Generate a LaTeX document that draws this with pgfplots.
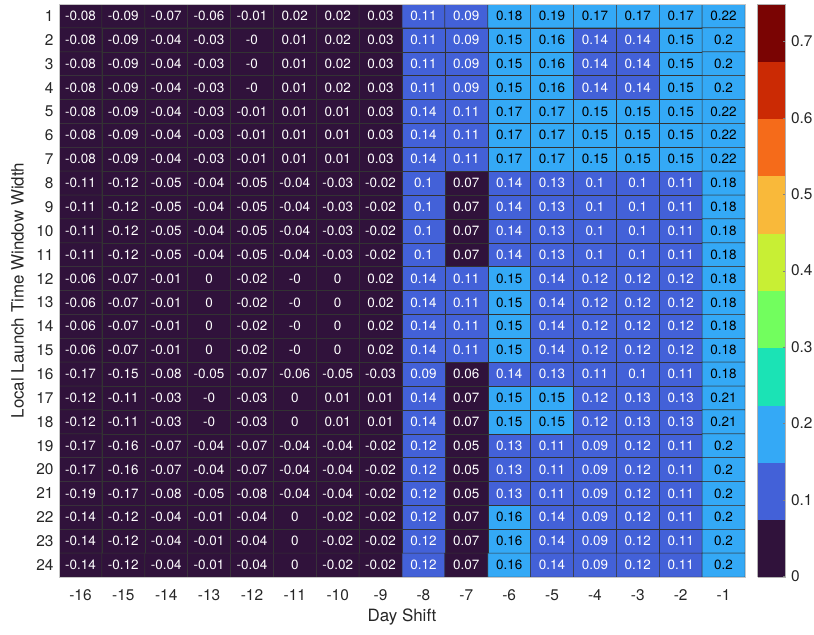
\documentclass[border=0pt]{standalone}
\usepackage{pgfplots}
\pgfplotsset{compat=1.18}
\usepackage{pgfplotstable}
\usepackage{fontspec}
\setmainfont{TeX Gyre Heros}

\pgfplotstableread[row sep=\\]{
x y v\\
-16 1 -0.08\\ -15 1 -0.09\\ -14 1 -0.07\\ -13 1 -0.06\\ -12 1 -0.01\\ -11 1 0.02\\ -10 1 0.02\\ -9 1 0.03\\ -8 1 0.11\\ -7 1 0.09\\ -6 1 0.18\\ -5 1 0.19\\ -4 1 0.17\\ -3 1 0.17\\ -2 1 0.17\\ -1 1 0.22\\
-16 2 -0.08\\ -15 2 -0.09\\ -14 2 -0.04\\ -13 2 -0.03\\ -12 2 -0\\ -11 2 0.01\\ -10 2 0.02\\ -9 2 0.03\\ -8 2 0.11\\ -7 2 0.09\\ -6 2 0.15\\ -5 2 0.16\\ -4 2 0.14\\ -3 2 0.14\\ -2 2 0.15\\ -1 2 0.2\\
-16 3 -0.08\\ -15 3 -0.09\\ -14 3 -0.04\\ -13 3 -0.03\\ -12 3 -0\\ -11 3 0.01\\ -10 3 0.02\\ -9 3 0.03\\ -8 3 0.11\\ -7 3 0.09\\ -6 3 0.15\\ -5 3 0.16\\ -4 3 0.14\\ -3 3 0.14\\ -2 3 0.15\\ -1 3 0.2\\
-16 4 -0.08\\ -15 4 -0.09\\ -14 4 -0.04\\ -13 4 -0.03\\ -12 4 -0\\ -11 4 0.01\\ -10 4 0.02\\ -9 4 0.03\\ -8 4 0.11\\ -7 4 0.09\\ -6 4 0.15\\ -5 4 0.16\\ -4 4 0.14\\ -3 4 0.14\\ -2 4 0.15\\ -1 4 0.2\\
-16 5 -0.08\\ -15 5 -0.09\\ -14 5 -0.04\\ -13 5 -0.03\\ -12 5 -0.01\\ -11 5 0.01\\ -10 5 0.01\\ -9 5 0.03\\ -8 5 0.14\\ -7 5 0.11\\ -6 5 0.17\\ -5 5 0.17\\ -4 5 0.15\\ -3 5 0.15\\ -2 5 0.15\\ -1 5 0.22\\
-16 6 -0.08\\ -15 6 -0.09\\ -14 6 -0.04\\ -13 6 -0.03\\ -12 6 -0.01\\ -11 6 0.01\\ -10 6 0.01\\ -9 6 0.03\\ -8 6 0.14\\ -7 6 0.11\\ -6 6 0.17\\ -5 6 0.17\\ -4 6 0.15\\ -3 6 0.15\\ -2 6 0.15\\ -1 6 0.22\\
-16 7 -0.08\\ -15 7 -0.09\\ -14 7 -0.04\\ -13 7 -0.03\\ -12 7 -0.01\\ -11 7 0.01\\ -10 7 0.01\\ -9 7 0.03\\ -8 7 0.14\\ -7 7 0.11\\ -6 7 0.17\\ -5 7 0.17\\ -4 7 0.15\\ -3 7 0.15\\ -2 7 0.15\\ -1 7 0.22\\
-16 8 -0.11\\ -15 8 -0.12\\ -14 8 -0.05\\ -13 8 -0.04\\ -12 8 -0.05\\ -11 8 -0.04\\ -10 8 -0.03\\ -9 8 -0.02\\ -8 8 0.1\\ -7 8 0.07\\ -6 8 0.14\\ -5 8 0.13\\ -4 8 0.1\\ -3 8 0.1\\ -2 8 0.11\\ -1 8 0.18\\
-16 9 -0.11\\ -15 9 -0.12\\ -14 9 -0.05\\ -13 9 -0.04\\ -12 9 -0.05\\ -11 9 -0.04\\ -10 9 -0.03\\ -9 9 -0.02\\ -8 9 0.1\\ -7 9 0.07\\ -6 9 0.14\\ -5 9 0.13\\ -4 9 0.1\\ -3 9 0.1\\ -2 9 0.11\\ -1 9 0.18\\
-16 10 -0.11\\ -15 10 -0.12\\ -14 10 -0.05\\ -13 10 -0.04\\ -12 10 -0.05\\ -11 10 -0.04\\ -10 10 -0.03\\ -9 10 -0.02\\ -8 10 0.1\\ -7 10 0.07\\ -6 10 0.14\\ -5 10 0.13\\ -4 10 0.1\\ -3 10 0.1\\ -2 10 0.11\\ -1 10 0.18\\
-16 11 -0.11\\ -15 11 -0.12\\ -14 11 -0.05\\ -13 11 -0.04\\ -12 11 -0.05\\ -11 11 -0.04\\ -10 11 -0.03\\ -9 11 -0.02\\ -8 11 0.1\\ -7 11 0.07\\ -6 11 0.14\\ -5 11 0.13\\ -4 11 0.1\\ -3 11 0.1\\ -2 11 0.11\\ -1 11 0.18\\
-16 12 -0.06\\ -15 12 -0.07\\ -14 12 -0.01\\ -13 12 0\\ -12 12 -0.02\\ -11 12 -0\\ -10 12 0\\ -9 12 0.02\\ -8 12 0.14\\ -7 12 0.11\\ -6 12 0.15\\ -5 12 0.14\\ -4 12 0.12\\ -3 12 0.12\\ -2 12 0.12\\ -1 12 0.18\\
-16 13 -0.06\\ -15 13 -0.07\\ -14 13 -0.01\\ -13 13 0\\ -12 13 -0.02\\ -11 13 -0\\ -10 13 0\\ -9 13 0.02\\ -8 13 0.14\\ -7 13 0.11\\ -6 13 0.15\\ -5 13 0.14\\ -4 13 0.12\\ -3 13 0.12\\ -2 13 0.12\\ -1 13 0.18\\
-16 14 -0.06\\ -15 14 -0.07\\ -14 14 -0.01\\ -13 14 0\\ -12 14 -0.02\\ -11 14 -0\\ -10 14 0\\ -9 14 0.02\\ -8 14 0.14\\ -7 14 0.11\\ -6 14 0.15\\ -5 14 0.14\\ -4 14 0.12\\ -3 14 0.12\\ -2 14 0.12\\ -1 14 0.18\\
-16 15 -0.06\\ -15 15 -0.07\\ -14 15 -0.01\\ -13 15 0\\ -12 15 -0.02\\ -11 15 -0\\ -10 15 0\\ -9 15 0.02\\ -8 15 0.14\\ -7 15 0.11\\ -6 15 0.15\\ -5 15 0.14\\ -4 15 0.12\\ -3 15 0.12\\ -2 15 0.12\\ -1 15 0.18\\
-16 16 -0.17\\ -15 16 -0.15\\ -14 16 -0.08\\ -13 16 -0.05\\ -12 16 -0.07\\ -11 16 -0.06\\ -10 16 -0.05\\ -9 16 -0.03\\ -8 16 0.09\\ -7 16 0.06\\ -6 16 0.14\\ -5 16 0.13\\ -4 16 0.11\\ -3 16 0.1\\ -2 16 0.11\\ -1 16 0.18\\
-16 17 -0.12\\ -15 17 -0.11\\ -14 17 -0.03\\ -13 17 -0\\ -12 17 -0.03\\ -11 17 0\\ -10 17 0.01\\ -9 17 0.01\\ -8 17 0.14\\ -7 17 0.07\\ -6 17 0.15\\ -5 17 0.15\\ -4 17 0.12\\ -3 17 0.13\\ -2 17 0.13\\ -1 17 0.21\\
-16 18 -0.12\\ -15 18 -0.11\\ -14 18 -0.03\\ -13 18 -0\\ -12 18 -0.03\\ -11 18 0\\ -10 18 0.01\\ -9 18 0.01\\ -8 18 0.14\\ -7 18 0.07\\ -6 18 0.15\\ -5 18 0.15\\ -4 18 0.12\\ -3 18 0.13\\ -2 18 0.13\\ -1 18 0.21\\
-16 19 -0.17\\ -15 19 -0.16\\ -14 19 -0.07\\ -13 19 -0.04\\ -12 19 -0.07\\ -11 19 -0.04\\ -10 19 -0.04\\ -9 19 -0.02\\ -8 19 0.12\\ -7 19 0.05\\ -6 19 0.13\\ -5 19 0.11\\ -4 19 0.09\\ -3 19 0.12\\ -2 19 0.11\\ -1 19 0.2\\
-16 20 -0.17\\ -15 20 -0.16\\ -14 20 -0.07\\ -13 20 -0.04\\ -12 20 -0.07\\ -11 20 -0.04\\ -10 20 -0.04\\ -9 20 -0.02\\ -8 20 0.12\\ -7 20 0.05\\ -6 20 0.13\\ -5 20 0.11\\ -4 20 0.09\\ -3 20 0.12\\ -2 20 0.11\\ -1 20 0.2\\
-16 21 -0.19\\ -15 21 -0.17\\ -14 21 -0.08\\ -13 21 -0.05\\ -12 21 -0.08\\ -11 21 -0.04\\ -10 21 -0.04\\ -9 21 -0.02\\ -8 21 0.12\\ -7 21 0.05\\ -6 21 0.13\\ -5 21 0.11\\ -4 21 0.09\\ -3 21 0.12\\ -2 21 0.11\\ -1 21 0.2\\
-16 22 -0.14\\ -15 22 -0.12\\ -14 22 -0.04\\ -13 22 -0.01\\ -12 22 -0.04\\ -11 22 0\\ -10 22 -0.02\\ -9 22 -0.02\\ -8 22 0.12\\ -7 22 0.07\\ -6 22 0.16\\ -5 22 0.14\\ -4 22 0.09\\ -3 22 0.12\\ -2 22 0.11\\ -1 22 0.2\\
-16 23 -0.14\\ -15 23 -0.12\\ -14 23 -0.04\\ -13 23 -0.01\\ -12 23 -0.04\\ -11 23 0\\ -10 23 -0.02\\ -9 23 -0.02\\ -8 23 0.12\\ -7 23 0.07\\ -6 23 0.16\\ -5 23 0.14\\ -4 23 0.09\\ -3 23 0.12\\ -2 23 0.11\\ -1 23 0.2\\
-16 24 -0.14\\ -15 24 -0.12\\ -14 24 -0.04\\ -13 24 -0.01\\ -12 24 -0.04\\ -11 24 0\\ -10 24 -0.02\\ -9 24 -0.02\\ -8 24 0.12\\ -7 24 0.07\\ -6 24 0.16\\ -5 24 0.14\\ -4 24 0.09\\ -3 24 0.12\\ -2 24 0.11\\ -1 24 0.2\\
}\data

\begin{document}
\begin{tikzpicture}
\begin{axis}[
  name=main,
  width=686bp, height=573bp, scale only axis,
  xmin=-16.5, xmax=-0.5, ymin=0.5, ymax=24.5, y dir=reverse,
  xtick={-16,...,-1}, ytick={1,...,24},
  major tick length=0pt,
  axis line style={draw=gray!45},
  /pgf/number format/assume math mode=true,
  tick label style={font=\fontsize{15.5}{17}\selectfont, text=black!85},
  xticklabel style={anchor=center, yshift=-18bp},
  yticklabel style={anchor=east, xshift=-2bp},
  xlabel={Day Shift}, ylabel={Local Launch Time Window Width},
  label style={font=\fontsize{17}{20}\selectfont, text=black!85},
  xlabel style={at={(axis description cs:0.5,-0.0698)}, anchor=center},
  ylabel style={at={(axis description cs:-0.0605,0.5)}, anchor=center},
  colormap={turbo10}{rgb255=(48,18,59) rgb255=(67,97,216) rgb255=(52,169,246) rgb255=(27,227,181) rgb255=(114,254,94) rgb255=(200,239,52) rgb255=(249,185,58) rgb255=(245,107,26) rgb255=(203,42,4) rgb255=(122,4,3)},
  colormap access=piecewise constant,
  point meta min=-0.001, point meta max=0.749,
  colorbar,
  colorbar style={
    at={(main.north east)}, anchor=north west, xshift=4bp,
    width=28bp, height=573bp, scale only axis,
    ytick={0,0.1,0.2,0.3,0.4,0.5,0.6,0.7},
    yticklabels={0,0.1,0.2,0.3,0.4,0.5,0.6,0.7},
    ytick pos=right, tick align=inside, major tick length=3bp,
    axis line style={draw=gray!60},
    yticklabel style={font=\fontsize{15.5}{17}\selectfont, text=black!85, anchor=west, xshift=2bp},
  },
]
\addplot[matrix plot, mesh/cols=16, point meta=explicit, draw=black!80, line width=0.5bp]
  table[x=x, y=y, meta=v] {\data};
\addplot[only marks, mark=*, mark size=0pt, mark options={draw=none, fill=none},
  point meta=explicit symbolic,
  nodes near coords={\ifdim\pgfplotspointmeta pt<0.145pt\color{white}\fi\pgfplotspointmeta},
  every node near coord/.append style={anchor=center, inner sep=0pt, font=\fontsize{13.5}{15}\selectfont, text=black}]
  table[x=x, y=y, meta=v] {\data};
\end{axis}
\pgfresetboundingbox
\path[use as bounding box] ([shift={(-59bp,-58bp)}]main.south west) rectangle ([shift={(69bp,4bp)}]main.north east);
\end{tikzpicture}
\end{document}
